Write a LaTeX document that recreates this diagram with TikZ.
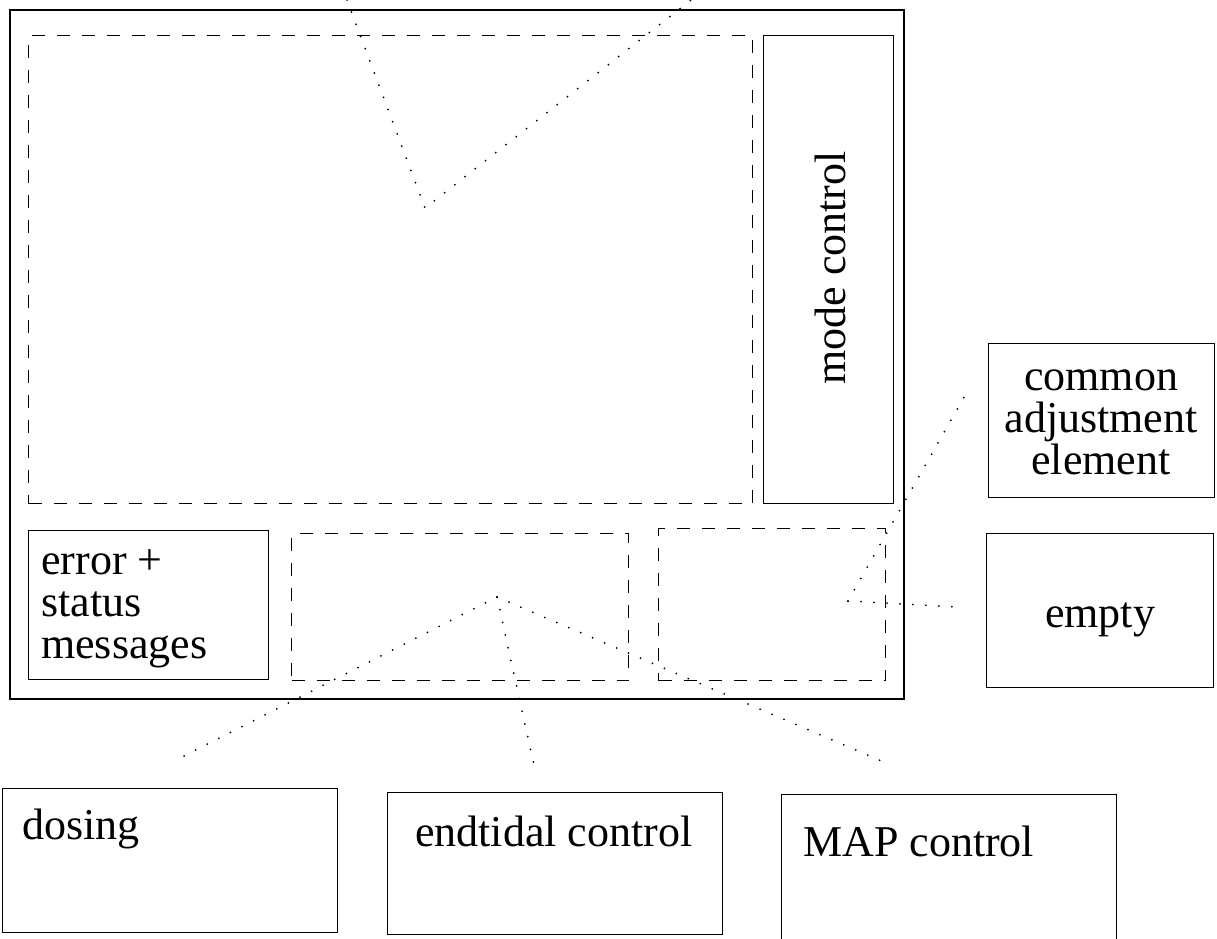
\documentclass[tikz,border=0pt]{standalone}
\usepackage{fontspec}
\setmainfont{Liberation Serif}

\tikzset{
    frame/.style={draw, line width=2.2pt, inner sep=0pt, anchor=north west},
    panel/.style={draw, line width=1.4pt, inner sep=0pt, anchor=north west},
    slot/.style={draw, line width=1.4pt, dash pattern=on 13pt off 12pt, inner sep=0pt, anchor=north west},
    callout/.style={line width=2pt, line cap=round, dash pattern=on 0pt off 13pt},
    tag/.style={inner sep=0pt, font=\fontsize{44}{42}\selectfont}
}

\begin{document}
\begin{tikzpicture}[x=1pt,y=-1pt]
    \useasboundingbox (0,0) rectangle (1217,938);

    % Marco de la pantalla
    \node[frame, minimum width=894, minimum height=689] (screen) at (9,9) {};

    % Zonas dentro de la pantalla
    \node[slot, minimum width=724, minimum height=468] (view) at (28,35) {};
    \node[panel, minimum width=130, minimum height=468] (mode) at (763,35) {};
    \node[panel, minimum width=240, minimum height=149] (status) at (28,530) {};
    \node[slot, minimum width=337, minimum height=147] (midslot) at (291,533) {};
    \node[slot, minimum width=227, minimum height=152] (rightslot) at (658,528) {};

    % (con align el ancla base queda en la ultima linea)
    \node[tag, rotate=90] (mode-label) at (830,268) {mode control};
    \node[tag, align=left, anchor=base west] (status-label) at (41,658) {error +\\status\\messages};

    % Elementos de ajuste a la derecha
    \node[panel, minimum width=226, minimum height=154] (common) at (988,343) {};
    \node[panel, minimum width=227, minimum height=154] (empty) at (986,533) {};

    \node[tag, align=center, anchor=base] (common-label) at (1101,474) {common\\adjustment\\element};
    \node[tag, anchor=base] (empty-label) at (1100,627) {empty};

    % Elementos de control abajo
    \node[panel, minimum width=335, minimum height=144] (dosing) at (2,788) {};
    \node[panel, minimum width=335, minimum height=142] (endtidal) at (387,792) {};
    \node[panel, minimum width=335, minimum height=152] (map) at (781,794) {};

    \node[tag, anchor=base west] (dosing-label) at (22,839) {dosing};
    \node[tag, anchor=base west] (endtidal-label) at (415,846) {endtidal control};
    \node[tag, anchor=base west] (map-label) at (803,856) {MAP control};

    % Lineas punteadas de referencia
    \coordinate (view-hub) at (425,208);
    \coordinate (view-left) at (347,0);
    \coordinate (view-right) at (691,0);
    \draw[callout] (view-left) -- (view-hub) -- (view-right);

    \coordinate (mid-hub) at (497,597);
    \coordinate (dosing-end) at (182,757);
    \coordinate (endtidal-end) at (534,765);
    \coordinate (map-end) at (891,765);
    \foreach \e in {dosing-end, endtidal-end, map-end} {
        \draw[callout] (mid-hub) -- (\e);
    }

    \coordinate (right-hub) at (848,601);
    \coordinate (common-end) at (967,392);
    \coordinate (empty-end) at (958,607);
    \draw[callout] (right-hub) -- (common-end);
    \draw[callout] (right-hub) -- (empty-end);

\end{tikzpicture}
\end{document}
